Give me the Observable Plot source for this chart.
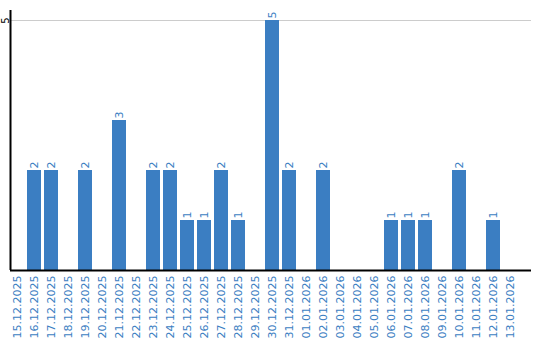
<!DOCTYPE html>
<html>
<head>
<meta charset="utf-8">
<script src="https://cdn.jsdelivr.net/npm/d3@7"></script>
<script src="https://cdn.jsdelivr.net/npm/@observablehq/plot@0.6"></script>
<style>
  html, body { margin: 0; padding: 0; background: #fff; }
  #chart { width: 540px; height: 340px; }
</style>
</head>
<body>
<div id="chart"></div>
<script>
const dates = [
  "15.12.2025","16.12.2025","17.12.2025","18.12.2025","19.12.2025","20.12.2025",
  "21.12.2025","22.12.2025","23.12.2025","24.12.2025","25.12.2025","26.12.2025",
  "27.12.2025","28.12.2025","29.12.2025","30.12.2025","31.12.2025","01.01.2026",
  "02.01.2026","03.01.2026","04.01.2026","05.01.2026","06.01.2026","07.01.2026",
  "08.01.2026","09.01.2026","10.01.2026","11.01.2026","12.01.2026","13.01.2026"
];
const counts = [0,2,2,0,2,0,3,0,2,2,1,1,2,1,0,5,2,0,2,0,0,0,1,1,1,0,2,0,1,0];
const yTicks = [5];

const data = dates.map((d, i) => ({date: d, count: counts[i]}));
const nonZero = data.filter(d => d.count > 0);
const blue = "#3b7ec2";

const chart = Plot.plot({
  width: 540,
  height: 340,
  marginLeft: 10,
  marginRight: 9,
  marginTop: 10,
  marginBottom: 70,
  style: {fontFamily: "DejaVu Sans", fontSize: "11px", background: "#fff"},
  x: {type: "band", domain: dates, range: [10, 517], paddingInner: 0.18, paddingOuter: 0, align: 0},
  y: {domain: [0, 5.2]},
  marks: [
    Plot.gridY(yTicks, {stroke: "#cccccc", strokeOpacity: 1}),
    Plot.barY(nonZero, {x: "date", y: "count", fill: blue}),
    Plot.text(nonZero, {x: "date", y: "count", text: d => String(d.count), rotate: -90, textAnchor: "start", dy: -2, fill: blue, fontSize: 11}),
    Plot.axisX({tickRotate: -90, tickSize: 0, tickPadding: 5, fill: blue, label: null}),
    Plot.axisY(yTicks, {tickRotate: -90, tickSize: 0, tickPadding: 2, tickFormat: d => String(d), fill: "black", fontSize: 10, label: null}),
    Plot.ruleY([0], {stroke: "black", strokeWidth: 2}),
    Plot.ruleX([dates[0]], {y1: 0, y2: 5.2, dx: -7, stroke: "black", strokeWidth: 2})
  ]
});
document.getElementById("chart").appendChild(chart);
</script>
</body>
</html>
